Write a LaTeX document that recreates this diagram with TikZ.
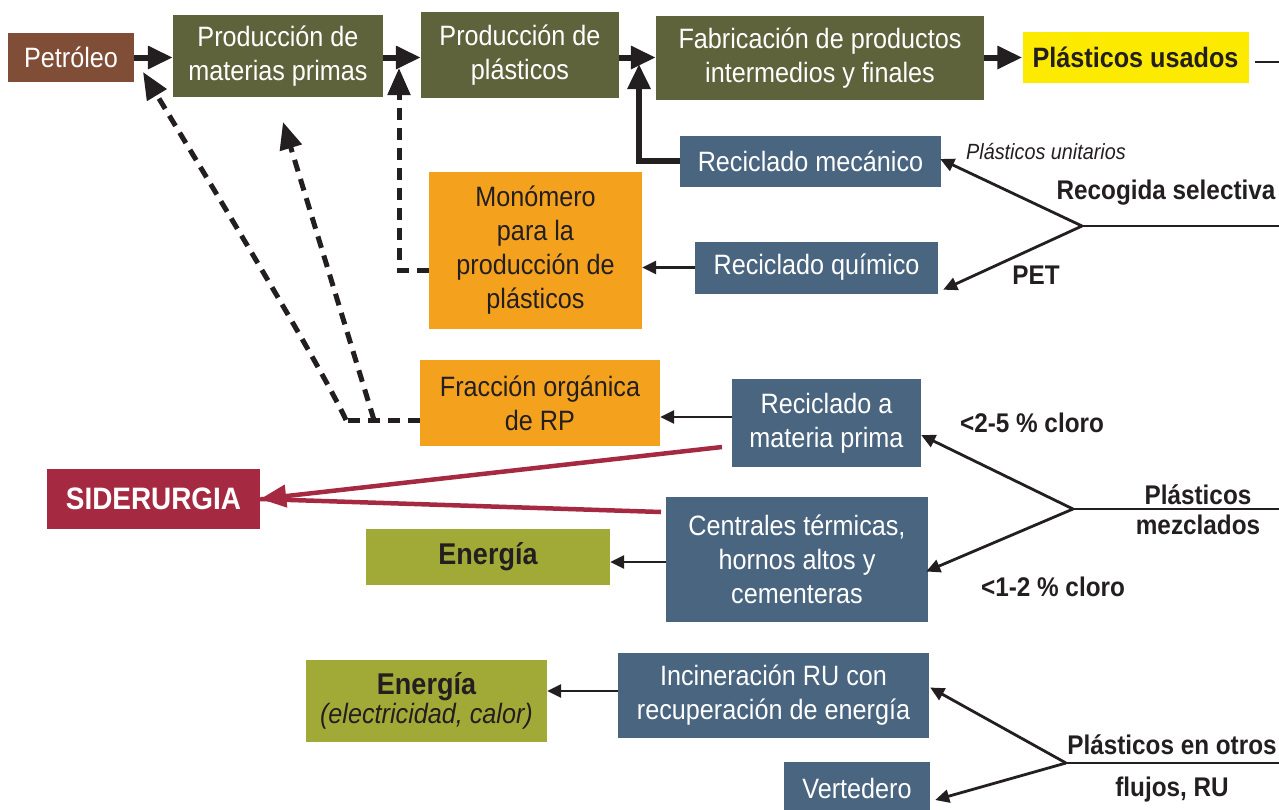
\documentclass[tikz,border=0pt]{standalone}
\usepackage{fontspec}
\setmainfont[FakeStretch=0.9]{Liberation Sans}
\usetikzlibrary{arrows.meta,calc}
\definecolor{cbrown}{HTML}{804D37}
\definecolor{colive}{HTML}{5E633B}
\definecolor{cyellow}{HTML}{FCEA00}
\definecolor{cblue}{HTML}{4A6580}
\definecolor{corange}{HTML}{F4A21E}
\definecolor{ccrim}{HTML}{A62942}
\definecolor{cgreen}{HTML}{A2AA37}
\definecolor{ctext}{HTML}{231F20}
\begin{document}
\begin{tikzpicture}[x=1pt,y=-1pt,
  box/.style={draw=none, inner sep=0pt, align=center, font=\fontsize{28}{34}\selectfont},
  wh/.style 2 args={minimum width=#1pt, minimum height=#2pt},
  dark/.style={box, fill=colive, text=white},
  blue/.style={box, fill=cblue, text=white},
  orng/.style={box, fill=corange, text=ctext},
  lbl/.style={inner sep=0pt, align=center, text=ctext, font=\fontsize{27}{30}\selectfont\bfseries},
  thick/.style={draw=ctext, line width=6pt, -{Triangle[length=25pt,width=22pt]}},
  thin/.style={draw=ctext, line width=2.8pt, -{Triangle[length=14pt,width=13pt]}},
  plain/.style={draw=ctext, line width=2.6pt},
  dashline/.style={draw=ctext, line width=5pt, dash pattern=on 12pt off 8pt},
  dasharr/.style={dashline, -{Triangle[length=27pt,width=22pt]}},
  crim/.style={draw=ccrim, line width=4.5pt}
]
\useasboundingbox (0,0) rectangle (1279,809);

% top row
\node[box, fill=cbrown, text=white, wh={126}{49}] (pet) at (71,57.5) {Petróleo};
\node[dark, wh={210}{82}] (mp) at (278,56) {Producción de\\materias primas};
\node[dark, wh={198}{86}] (pp) at (520,55) {Producción de\\plásticos};
\node[dark, wh={328}{84}] (fab) at (820,58) {Fabricación de productos\\intermedios y finales};
\node[box, fill=cyellow, text=ctext, wh={226}{51}, font=\fontsize{28}{34}\selectfont\bfseries] (usd) at (1135.5,57.5) {Plásticos usados};

% recycling
\node[blue, wh={261}{51}] (rmec) at (810.5,161) {Reciclado mecánico};
\node[blue, wh={243}{52}] (rqui) at (816.5,267.5) {Reciclado químico};
\node[orng, wh={213}{157}] (mono) at (535.5,250.5) {Monómero\\para la\\producción de\\plásticos};
\node[orng, wh={240}{86}] (frac) at (540,403) {Fracción orgánica\\de RP};
\node[blue, wh={189}{88}] (rmp) at (826.5,423) {Reciclado a\\materia prima};
\node[box, fill=ccrim, text=white, wh={213}{60}, font=\fontsize{31}{34}\selectfont\bfseries] (sid) at (153.5,499) {SIDERURGIA};
\node[blue, wh={262}{125}] (cent) at (797,559.5) {Centrales térmicas,\\hornos altos y\\cementeras};
\node[box, fill=cgreen, text=ctext, wh={244}{56}, font=\fontsize{30}{34}\selectfont\bfseries] (en1) at (488,557) {Energía};
\node[blue, wh={311}{85}] (inc) at (773.5,695.5) {Incineración RU con\\recuperación de energía};
\node[box, fill=cgreen, text=ctext, wh={241}{82}, font=\fontsize{28}{29}\selectfont] (en2) at (426.5,701) {{\fontsize{30}{29}\selectfont\bfseries Energía}\\{\itshape (electricidad, calor)}};
\node[blue, wh={146}{52}] (vert) at (857,788) {Vertedero};

% labels
\node[inner sep=0pt, text=ctext, font=\fontsize{22}{26}\selectfont\itshape] (lpu) at (1046,152) {Plásticos unitarios};
\node[lbl] (lrs) at (1166,193) {Recogida selectiva};
\node[lbl] (lpet) at (1036,275) {PET};
\node[lbl] (l25) at (1032,423) {<2-5 \% cloro};
\node[lbl] (l12) at (1053,587) {<1-2 \% cloro};
\node[lbl] (lpm) at (1198,510) {Plásticos\\mezclados};
\node[lbl, font=\fontsize{27}{42}\selectfont\bfseries] (lpo) at (1172,768) {Plásticos en otros\\flujos, RU};

% main chain
\draw[thick] (pet.east) -- (pet.east -| mp.west);
\draw[thick] (pet.east -| mp.east) -- (pet.east -| pp.west);
\draw[thick] (pet.east -| pp.east) -- (pet.east -| fab.west);
\draw[thick] (fab.east |- usd.west) -- (usd.west);
\coordinate (uend) at (1279,62);
\draw[plain] ($(usd.east)+(6,4.5)$) -- (uend);

% mechanical recycling back to manufacturing
\coordinate (jm) at (639,64);
\draw[thick] (rmec.west) -| (jm);

% chemical
\draw[thin] (rqui.west) -- (rqui.west -| mono.east);
\coordinate (dm) at (399,68);
\draw[dasharr] (mono.west |- 0,270) -| (dm);

% feedstock
\draw[thin] (rmp.west |- 0,417) -- (frac.east |- 0,417);
\coordinate (fa) at (346,420);
\coordinate (fb) at (374,420);
\coordinate (tp) at (143,72);
\coordinate (tm) at (283,122);
\draw[dashline] (frac.west |- 0,420) -- (fa);
\draw[dasharr] (fa) .. controls (318,360) and (190,150) .. (tp);
\draw[dasharr] (fb) -- (tm);

% siderurgia
\coordinate (c1) at (722,447);
\coordinate (c2) at (661,512);
\draw[crim] (c2) -- (sid.east);
\draw[crim, -{Triangle[length=26pt,width=22pt]}] (c1) -- (sid.east);

% energy
\draw[thin] (cent.west |- 0,562) -- (en1.east |- 0,562);
\draw[thin] (inc.west |- 0,691) -- (en2.east |- 0,691);

% recogida selectiva
\coordinate (jr) at (1082,226);
\coordinate (er) at (1279,226);
\draw[plain] (jr) -- (er);
\draw[thin] (jr) -- ($(rmec.east)+(-1,-2)$);
\draw[thin] (jr) -- ($(rqui.south east)+(5,-4)$);

% plasticos mezclados
\coordinate (jz) at (1073,509);
\coordinate (ez) at (1279,509);
\draw[plain] (jz) -- (ez);
\draw[thin] (jz) -- ($(rmp.east)+(0,12)$);
\draw[thin] (jz) -- ($(cent.east)+(-2,12)$);

% otros flujos
\coordinate (jo) at (1066,763);
\coordinate (eo) at (1279,763);
\draw[plain] (jo) -- (eo);
\draw[thin] (jo) -- ($(inc.east)+(1,-8)$);
\draw[thin] (jo) -- ($(vert.east)+(5,12)$);
\end{tikzpicture}
\end{document}
